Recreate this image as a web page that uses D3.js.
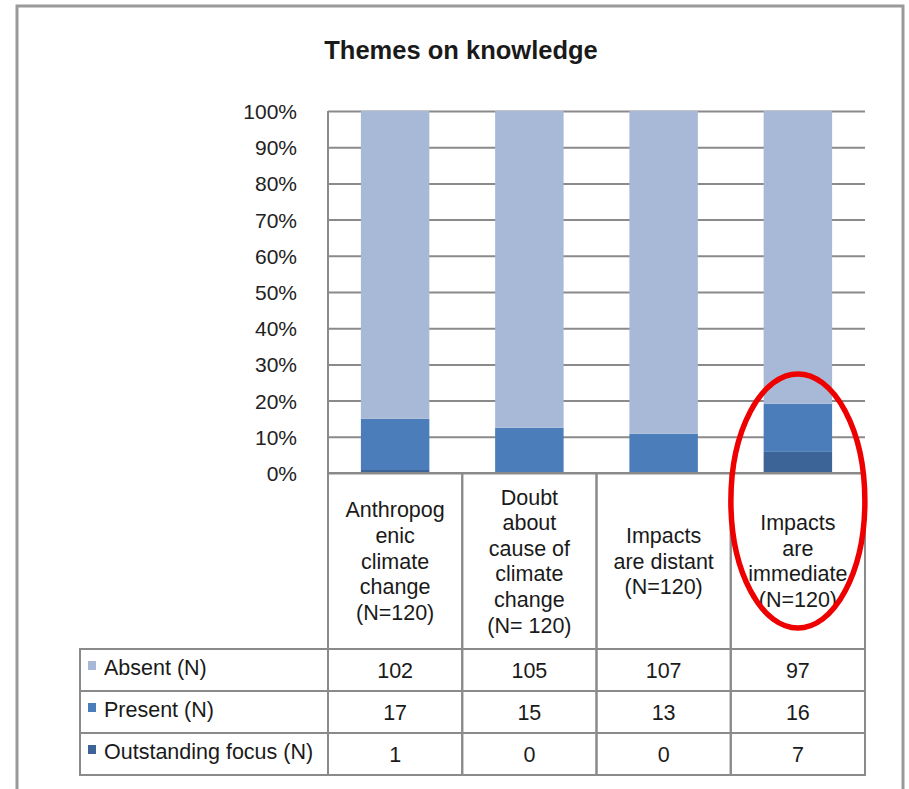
<!DOCTYPE html>
<meta charset="utf-8">
<head>
    <script src="https://d3js.org/d3.v7.min.js"></script>
    <style>
        body { margin: 0; background: #fff; }
        text { font-family: "Liberation Sans", Arial, sans-serif; fill: #1a1a1a; }
        .grid line { stroke: #8a8a8a; stroke-width: 2px; }
        .grid .domain { display: none; }
        .grid text { font-size: 21px; fill: #222; }
        .cell { fill: none; stroke: #8a8a8a; stroke-width: 2px; }
    </style>
</head>
<body>
<div id="chart"></div>
<script>
    // data
    var categories = [
        ["Anthropog", "enic", "climate", "change", "(N=120)"],
        ["Doubt", "about", "cause of", "climate", "change", "(N= 120)"],
        ["Impacts", "are distant", "(N=120)"],
        ["Impacts", "are", "immediate", "(N=120)"]
    ];
    var seriesNames = ["Absent (N)", "Present (N)", "Outstanding focus (N)"];
    var absent = [102, 105, 107, 97];
    var present = [17, 15, 13, 16];
    var outstanding = [1, 0, 0, 7];
    var yTicks = [0, 0.1, 0.2, 0.3, 0.4, 0.5, 0.6, 0.7, 0.8, 0.9, 1];
    var colors = ["#a8b9d7", "#4b7dbb", "#3c6497"];

    var W = 909, H = 789;
    var plotLeft = 328, plotRight = 865, plotTop = 111, plotBottom = 473;
    var headerBottom = 649, rowH = 42, tableLeft = 80;
    var fs = "21.5px";

    var svg = d3.select("#chart").append("svg")
        .attr("width", W).attr("height", H);

    // outer frame
    svg.append("rect")
        .attr("x", 17).attr("y", 6)
        .attr("width", 886).attr("height", 820)
        .attr("fill", "none")
        .attr("stroke", "#9a9a9a")
        .attr("stroke-width", 3);

    // title
    svg.append("text")
        .attr("x", 461).attr("y", 59)
        .attr("text-anchor", "middle")
        .style("font-size", "25.5px")
        .style("font-weight", "bold")
        .text("Themes on knowledge");

    var keys = categories.map(function(c, i) { return "c" + i; });

    var x = d3.scaleBand()
        .domain(keys)
        .range([plotLeft, plotRight])
        .paddingInner(0.49)
        .paddingOuter(0.245);

    var y = d3.scaleLinear()
        .domain([0, 1])
        .range([plotBottom, plotTop]);

    // grid + y axis labels
    var grid = svg.append("g")
        .attr("class", "grid")
        .attr("transform", "translate(" + plotLeft + ",0)")
        .call(d3.axisLeft(y)
            .tickValues(yTicks)
            .tickSize(-(plotRight - plotLeft))
            .tickPadding(31)
            .tickFormat(d3.format(".0%")));
    grid.selectAll("text").attr("dy", "0.36em");

    // y axis line
    svg.append("line")
        .attr("x1", plotLeft).attr("x2", plotLeft)
        .attr("y1", plotTop).attr("y2", plotBottom)
        .attr("stroke", "#8a8a8a").attr("stroke-width", 2);

    // stacked percentages
    var rows = keys.map(function(k, i) {
        var total = absent[i] + present[i] + outstanding[i];
        return { key: k, outstanding: outstanding[i] / total, present: present[i] / total, absent: absent[i] / total };
    });
    var stack = d3.stack().keys(["outstanding", "present", "absent"]);
    var layers = stack(rows);
    var layerColor = { outstanding: colors[2], present: colors[1], absent: colors[0] };

    svg.append("g").selectAll("g")
        .data(layers)
        .join("g")
        .attr("fill", function(d) { return layerColor[d.key]; })
        .selectAll("rect")
        .data(function(d) { return d; })
        .join("rect")
        .attr("x", function(d) { return x(d.data.key); })
        .attr("y", function(d) { return y(d[1]); })
        .attr("height", function(d) { return y(d[0]) - y(d[1]); })
        .attr("width", x.bandwidth());

    // bottom gridline on top of bars
    svg.append("line")
        .attr("x1", plotLeft).attr("x2", plotRight)
        .attr("y1", plotBottom).attr("y2", plotBottom)
        .attr("stroke", "#8a8a8a").attr("stroke-width", 2);

    // data table
    var colW = x.step();
    var table = svg.append("g");

    // header cells
    keys.forEach(function(k, i) {
        var cx = plotLeft + i * colW;
        table.append("rect").attr("class", "cell")
            .attr("x", cx).attr("y", plotBottom)
            .attr("width", colW).attr("height", headerBottom - plotBottom);
        var lines = categories[i];
        var lh = 25.6;
        var mid = (plotBottom + headerBottom) / 2;
        var t = table.append("text")
            .attr("text-anchor", "middle")
            .style("font-size", fs);
        lines.forEach(function(l, j) {
            t.append("tspan")
                .attr("x", cx + colW / 2)
                .attr("y", mid + (j - (lines.length - 1) / 2) * lh + 7.5)
                .text(l);
        });
    });

    var tableValues = [absent, present, outstanding];
    seriesNames.forEach(function(name, r) {
        var ry = headerBottom + r * rowH;
        table.append("rect").attr("class", "cell")
            .attr("x", tableLeft).attr("y", ry)
            .attr("width", plotLeft - tableLeft).attr("height", rowH);
        table.append("rect")
            .attr("x", tableLeft + 8).attr("y", ry + rowH / 2 - 9)
            .attr("width", 8).attr("height", 9)
            .attr("fill", colors[r]);
        table.append("text")
            .attr("x", tableLeft + 24).attr("y", ry + rowH / 2 + 5)
            .style("font-size", fs)
            .text(name);
        tableValues[r].forEach(function(v, i) {
            var cx = plotLeft + i * colW;
            table.append("rect").attr("class", "cell")
                .attr("x", cx).attr("y", ry)
                .attr("width", colW).attr("height", rowH);
            table.append("text")
                .attr("x", cx + colW / 2).attr("y", ry + rowH / 2 + 8)
                .attr("text-anchor", "middle")
                .style("font-size", fs)
                .text(v);
        });
    });

    // red highlight ellipse
    svg.append("ellipse")
        .attr("cx", x("c3") + x.bandwidth() / 2).attr("cy", 501)
        .attr("rx", 67).attr("ry", 127)
        .attr("fill", "none")
        .attr("stroke", "#ee0000")
        .attr("stroke-width", 5.5);
</script>
</body>
